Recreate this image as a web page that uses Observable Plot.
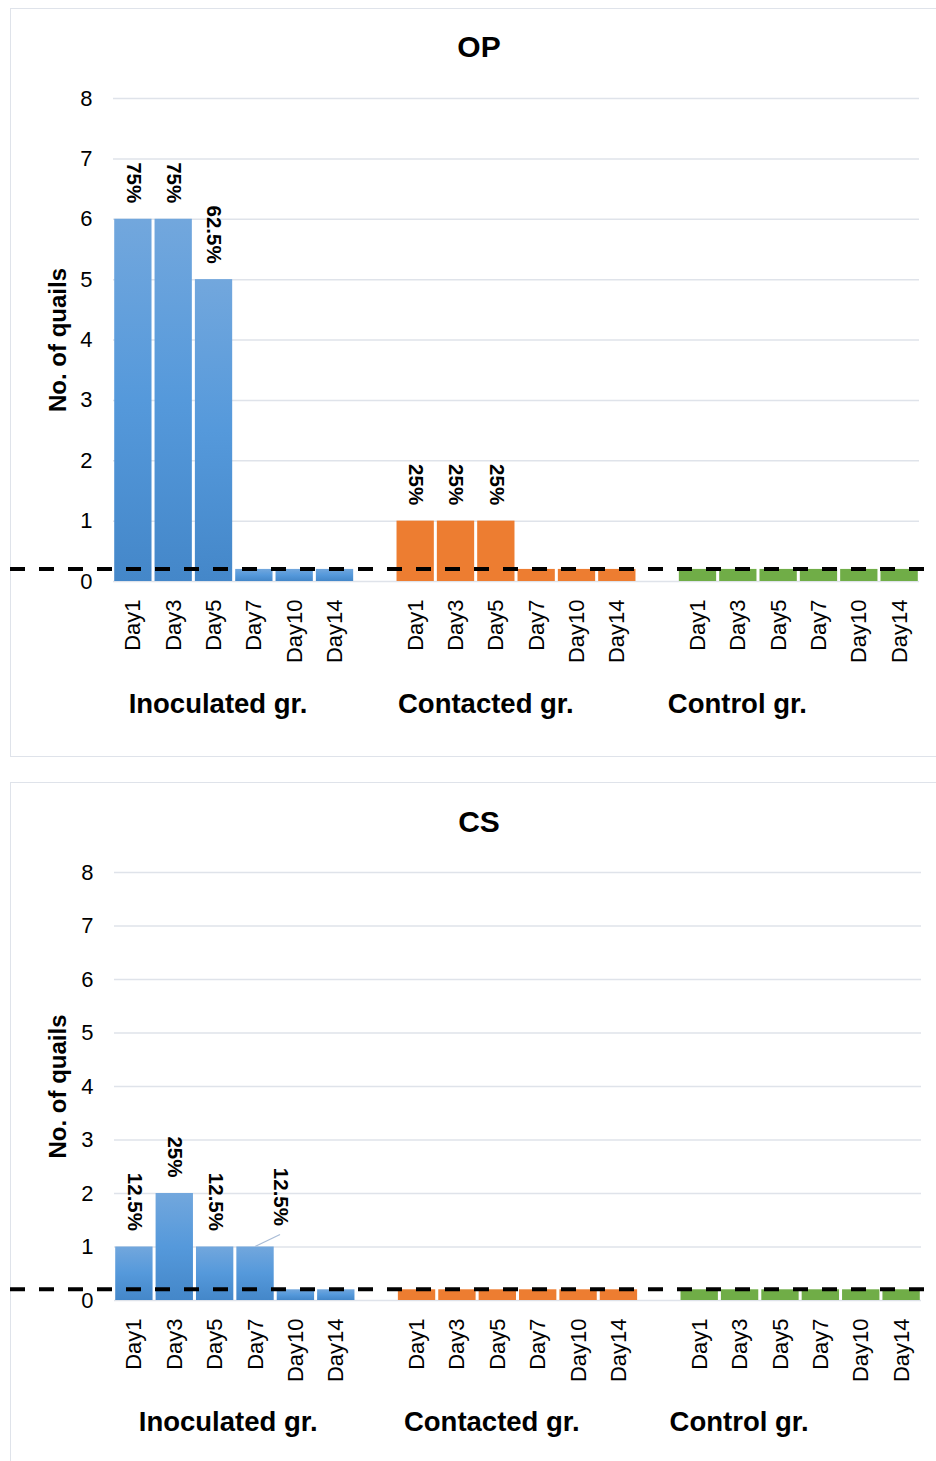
<!DOCTYPE html>
<html>
<head>
<meta charset="utf-8">
<script src="https://cdn.jsdelivr.net/npm/d3@7"></script>
<script src="https://cdn.jsdelivr.net/npm/@observablehq/plot@0.6"></script>
<style>
  body { margin: 0; background: #fff; font-family: "Liberation Sans", Arial, sans-serif; }
  .panel { position: absolute; left: 10px; width: 940px; border: 1.5px solid #dfe3ea; box-sizing: border-box; }
  .title { position: absolute; left: 0; width: 958px; text-align: center; font-weight: bold; font-size: 30px; line-height: 30px; color: #000; }
  .chart { position: absolute; left: 0; }
</style>
</head>
<body>
<div class="panel" style="top:8px;height:749px"></div>
<div class="panel" style="top:782px;height:720px"></div>
<div class="title" style="top:32px">OP</div>
<div class="title" style="top:807px">CS</div>
<div class="chart" id="op" style="top:70px"></div>
<div class="chart" id="cs" style="top:845px"></div>
<script>
// ---------- data ----------
const groups = ["Inoculated gr.", "Contacted gr.", "Control gr."];
const days = ["Day1", "Day3", "Day5", "Day7", "Day10", "Day14"];
const yTicks = [0, 1, 2, 3, 4, 5, 6, 7, 8];
const cutoff = 0.2;

const opInoculated = [6, 6, 5, 0.2, 0.2, 0.2];
const opContacted = [1, 1, 1, 0.2, 0.2, 0.2];
const opControl = [0.2, 0.2, 0.2, 0.2, 0.2, 0.2];
const opInoculatedPct = ["75%", "75%", "62.5%", null, null, null];
const opContactedPct = ["25%", "25%", "25%", null, null, null];
const opControlPct = [null, null, null, null, null, null];

const csInoculated = [1, 2, 1, 1, 0.2, 0.2];
const csContacted = [0.2, 0.2, 0.2, 0.2, 0.2, 0.2];
const csControl = [0.2, 0.2, 0.2, 0.2, 0.2, 0.2];
const csInoculatedPct = ["12.5%", "25%", "12.5%", "12.5%", null, null];
const csContactedPct = [null, null, null, null, null, null];
const csControlPct = [null, null, null, null, null, null];

const groupFills = ["gradient", "#ed7d31", "#70ad47"];
const blueStops = ["#72a7dd", "#5599db", "#4487c9"];

// ---------- helpers ----------
const ns = "http://www.w3.org/2000/svg";
const slots = [];
groups.forEach((g, gi) => {
  if (gi > 0) slots.push("gap" + gi);
  days.forEach(d => slots.push(g + "|" + d));
});

function rowsFor(valueArrays, pctArrays) {
  const rows = [];
  groups.forEach((g, gi) => {
    days.forEach((d, i) => {
      rows.push({slot: g + "|" + d, group: g, gi, day: d, value: valueArrays[gi][i], pct: pctArrays[gi][i]});
    });
  });
  return rows;
}

function makeChart(cfg) {
  const rows = rowsFor(cfg.values, cfg.pcts);
  const gradId = cfg.id + "-grad";
  const defs = () => {
    const d = document.createElementNS(ns, "defs");
    const lg = document.createElementNS(ns, "linearGradient");
    lg.setAttribute("id", gradId);
    lg.setAttribute("x1", "0"); lg.setAttribute("y1", "0");
    lg.setAttribute("x2", "0"); lg.setAttribute("y2", "1");
    blueStops.forEach((c, i) => {
      const s = document.createElementNS(ns, "stop");
      s.setAttribute("offset", String(i / (blueStops.length - 1)));
      s.setAttribute("stop-color", c);
      lg.appendChild(s);
    });
    d.appendChild(lg);
    return d;
  };
  const dashed = (index, scales, values, dims) => {
    const y = scales.y(cutoff);
    const l = document.createElementNS(ns, "line");
    l.setAttribute("x1", 10); l.setAttribute("x2", dims.width);
    l.setAttribute("y1", y); l.setAttribute("y2", y);
    l.setAttribute("stroke", "#000");
    l.setAttribute("stroke-width", 4);
    l.setAttribute("stroke-dasharray", "15,14");
    return l;
  };
  const leader = (index, scales) => {
    const g = document.createElementNS(ns, "g");
    if (!cfg.special) return g;
    const sx = scales.x;
    const bw = typeof sx.bandwidth === "function" ? sx.bandwidth() : 0;
    const r = rows.find(r => r.slot === cfg.special);
    const x = sx(r.slot) + bw / 2;
    const y = scales.y(r.value);
    const l = document.createElementNS(ns, "line");
    l.setAttribute("x1", x); l.setAttribute("y1", y);
    l.setAttribute("x2", x + cfg.specialDx); l.setAttribute("y2", y - 12);
    l.setAttribute("stroke", "#a9bcd6");
    l.setAttribute("stroke-width", 1.3);
    g.appendChild(l);
    return g;
  };

  const marks = [
    Plot.ruleY(yTicks, {stroke: "#dfe3ea", strokeWidth: 1.5}),
    defs
  ];
  groups.forEach((g, gi) => {
    marks.push(Plot.barY(rows.filter(r => r.gi === gi), {
      x: "slot", y: "value",
      fill: groupFills[gi] === "gradient" ? "url(#" + gradId + ")" : groupFills[gi]
    }));
  });
  marks.push(dashed);
  marks.push(leader);
  marks.push(Plot.text(rows.filter(r => r.pct && r.slot !== cfg.special), {
    x: "slot", y: "value", text: "pct", rotate: 90, textAnchor: "end",
    dy: -16, fontWeight: "bold", fontSize: 20.5, fill: "#000"
  }));
  if (cfg.special) {
    marks.push(Plot.text(rows.filter(r => r.slot === cfg.special), {
      x: "slot", y: "value", text: "pct", rotate: 90, textAnchor: "end",
      dx: cfg.specialDx, dy: -21, fontWeight: "bold", fontSize: 20.5, fill: "#000"
    }));
  }
  marks.push(Plot.text(["No. of quails"], {
    frameAnchor: "left", textAnchor: "middle", dx: cfg.yLabelDx, rotate: -90, text: d => d,
    fontWeight: "bold", fontSize: 24, fill: "#000"
  }));
  groups.forEach((g, gi) => {
    marks.push(Plot.text([{slot: g + "|" + days[cfg.labelSlot[gi]], label: g}], {
      x: "slot", text: "label", frameAnchor: "bottom", dy: cfg.groupDy, dx: cfg.labelDx[gi],
      fontWeight: "bold", fontSize: 27.5, fill: "#000"
    }));
  });

  const plot = Plot.plot({
    width: 936,
    height: cfg.marginTop + cfg.plotHeight + 150,
    marginTop: cfg.marginTop,
    marginBottom: 150,
    marginLeft: cfg.marginLeft,
    marginRight: cfg.marginRight,
    style: {fontFamily: '"Liberation Sans", Arial, sans-serif', fontSize: "22px", color: "#000", background: "transparent", overflow: "visible"},
    x: {
      domain: slots, paddingInner: 0.075, paddingOuter: 0.03, round: false,
      tickFormat: d => d.startsWith("gap") ? "" : d.split("|")[1],
      tickRotate: -90, tickSize: 0, tickPadding: 18, label: null
    },
    y: {domain: [0, 8], ticks: yTicks, tickSize: 0, tickPadding: 21, label: null},
    marks
  });
  document.getElementById(cfg.id).appendChild(plot);
}

makeChart({
  id: "op",
  values: [opInoculated, opContacted, opControl],
  pcts: [opInoculatedPct, opContactedPct, opControlPct],
  marginTop: 28, plotHeight: 483, marginLeft: 113, marginRight: 17,
  yLabelDx: -55, groupDy: 131,
  labelSlot: [2, 2, 1], labelDx: [4, -10.5, -1],
  special: null, specialDx: 0
});

makeChart({
  id: "cs",
  values: [csInoculated, csContacted, csControl],
  pcts: [csInoculatedPct, csContactedPct, csControlPct],
  marginTop: 27, plotHeight: 428, marginLeft: 114, marginRight: 15,
  yLabelDx: -56, groupDy: 130,
  labelSlot: [2, 2, 1], labelDx: [13, -6, -1],
  special: "Inoculated gr.|Day7", specialDx: 25
});
</script>
</body>
</html>
